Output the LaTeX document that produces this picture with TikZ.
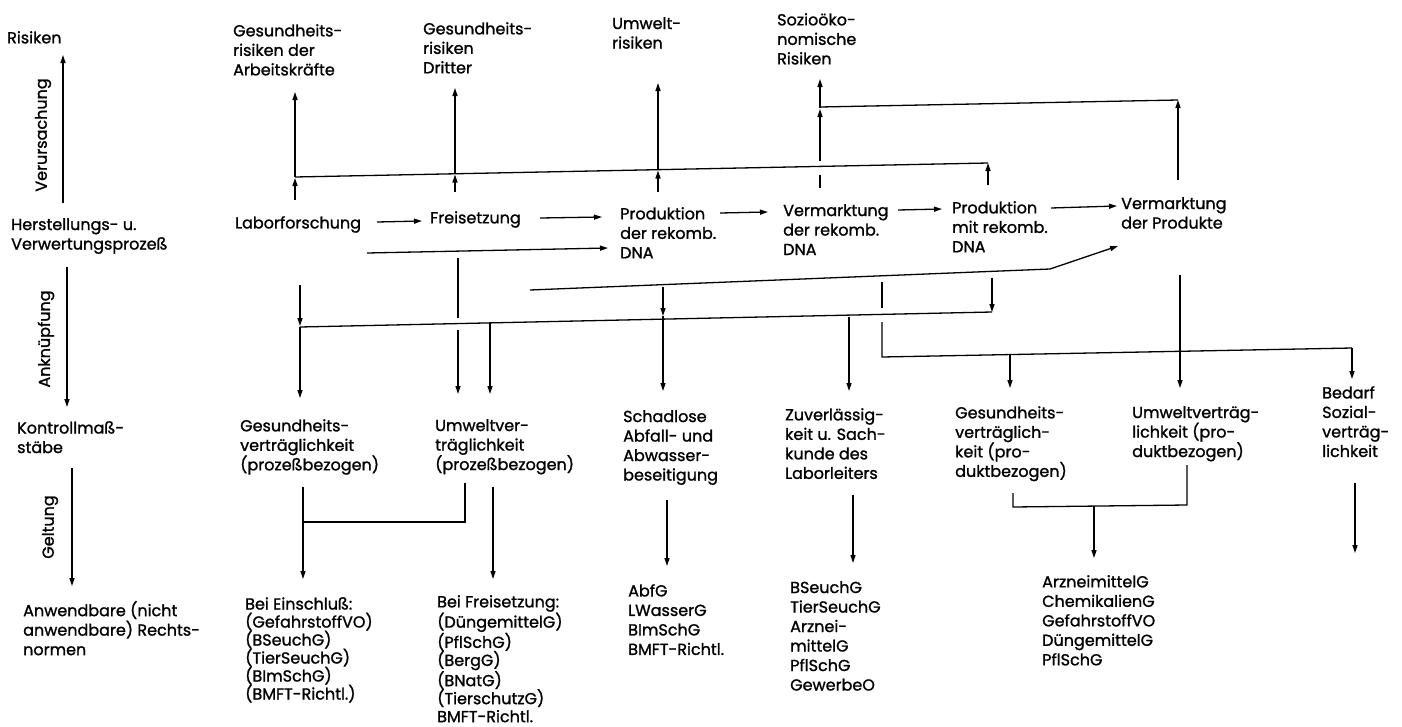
\documentclass[tikz,border=0pt]{standalone}
\usepackage{fontspec}
\setmainfont{Poppins}[UprightFeatures={FakeBold=1.2}]
\usetikzlibrary{arrows.meta}
\begin{document}
\begin{tikzpicture}[x=1pt,y=-1pt,
  txt/.style={anchor=north west,inner sep=0pt,align=left,font=\fontsize{16}{19.5}\selectfont},
  law/.style={anchor=north west,inner sep=0pt,align=left,font=\fontsize{16}{18}\selectfont},
  rot/.style={rotate=90,inner sep=0pt,font=\fontsize{16}{19.5}\selectfont},
  ln/.style={line width=1.3pt},
  arr/.style={line width=1.3pt,-{Triangle[length=8pt,width=5pt]}}]
\useasboundingbox (0,0) rectangle (1402,726);
% left axis
\node[txt] (risk) at (7,31) {Risiken};
\node[txt] (herst) at (11,218) {Herstellungs- u.\\Verwertungsprozeß};
\node[txt] (kontr) at (17,421) {Kontrollmaß-\\stäbe};
\node[txt] (anw) at (23,601) {Anwendbare (nicht\\anwendbare) Rechts-\\normen};
\node[rot] (verurs) at (43,135) {Verursachung};
\node[rot] (ankn) at (46,339) {Anknüpfung};
\node[rot] (gelt) at (50,527) {Geltung};
\coordinate (ax1) at (63,203); \coordinate (ax1e) at (63,55);
\coordinate (ax2) at (67,267); \coordinate (ax2e) at (67,407);
\coordinate (ax3) at (72,468); \coordinate (ax3e) at (72,586);
\draw[arr] (ax1) -- (ax1e);
\draw[arr] (ax2) -- (ax2e);
\draw[arr] (ax3) -- (ax3e);
% risks
\node[txt] (r1) at (233,24) {Gesundheits-\\risiken der\\Arbeitskräfte};
\node[txt] (r2) at (423,22) {Gesundheits-\\risiken\\Dritter};
\node[txt] (r3) at (612,17) {Umwelt-\\risiken};
\node[txt] (r4) at (777,13) {Sozioöko-\\nomische\\Risiken};
% processes
\node[txt] (p1) at (235,216) {Laborforschung};
\node[txt] (p2) at (430,211) {Freisetzung};
\node[txt] (p3) at (620,207) {Produktion\\der rekomb.\\DNA};
\node[txt] (p4) at (783,204) {Vermarktung\\der rekomb.\\DNA};
\node[txt] (p5) at (952,201) {Produktion\\mit rekomb.\\DNA};
\node[txt] (p6) at (1121,197) {Vermarktung\\der Produkte};
% control criteria
\node[txt] (c1) at (240,419) {Gesundheits-\\verträglichkeit\\(prozeßbezogen)};
\node[txt] (c2) at (435,419) {Umweltver-\\träglichkeit\\(prozeßbezogen)};
\node[txt] (c3) at (623,410) {Schadlose\\Abfall- und\\Abwasser-\\beseitigung};
\node[txt] (c4) at (785,408) {Zuverlässig-\\keit u. Sach-\\kunde des\\Laborleiters};
\node[txt] (c5) at (955,406) {Gesundheits-\\verträglich-\\keit (pro-\\duktbezogen)};
\node[txt] (c6) at (1132,406) {Umweltverträg-\\lichkeit (pro-\\duktbezogen)};
\node[txt] (c7) at (1322,386) {Bedarf\\Sozial-\\verträg-\\lichkeit};
% laws
\node[law] (l1) at (245,597) {Bei Einschluß:\\(GefahrstoffVO)\\(BSeuchG)\\(TierSeuchG)\\(BImSchG)\\(BMFT-Richtl.)};
\node[law] (l2) at (437,595) {Bei Freisetzung:\\(DüngemittelG)\\(PflSchG)\\(BergG)\\(BNatG)\\(TierschutzG)\\BMFT-Richtl.};
\node[txt] (l3) at (628,584) {AbfG\\LWasserG\\BImSchG\\BMFT-Richtl.};
\node[txt] (l4) at (790,581) {BSeuchG\\TierSeuchG\\Arznei-\\mittelG\\PflSchG\\GewerbeO};
\node[txt] (l5) at (1042,575) {ArzneimittelG\\ChemikalienG\\GefahrstoffVO\\DüngemittelG\\PflSchG};
% upper bus (causation)
\coordinate (ba1) at (295,177); \coordinate (ba2) at (988,163);
\draw[ln] (ba1) -- (ba2);
\draw[arr] (295,200) -- (295,178);
\draw[arr] (295,177) -- (295,92);
\draw[arr] (455,192) -- (455,174.5);
\draw[arr] (455,174) -- (455,88);
\draw[arr] (658,192) -- (658,170.5);
\draw[arr] (658,170) -- (658,83);
\draw[ln] (820,188) -- (820,175);
\draw[arr] (820,161) -- (820,109);
\draw[arr] (820,108) -- (820,79);
\draw[arr] (1178,180) -- (1178,100);
\draw[ln] (1178,100) -- (820,107);
\draw[arr] (988,185) -- (988,163);
% process arrows
\draw[arr] (377,222) -- (422,221);
\draw[arr] (540,218) -- (602,217);
\draw[arr] (720,213) -- (768,212);
\draw[arr] (898,210) -- (942,209);
\draw[arr] (1051,208) -- (1117,206);
\draw[arr] (367,253) -- (608,248);
\draw[arr] (530,290) -- (1050,269) -- (1118,246);
% lower bus (linkage)
\coordinate (bb1) at (300,327); \coordinate (bb2) at (992,312);
\draw[ln] (bb1) -- (bb2);
\draw[arr] (300,285) -- (300,326);
\draw[arr] (300,327) -- (300,398);
\draw[ln] (458,258) -- (458,318);
\draw[arr] (458,330) -- (458,394);
\draw[arr] (490,323) -- (490,394);
\draw[arr] (663,287) -- (663,316);
\draw[arr] (663,316) -- (663,391);
\draw[arr] (849,317) -- (849,391);
\draw[arr] (992,278) -- (992,312);
\draw[ln] (882,282) -- (882,308);
\draw[ln] (882,322) -- (882,357) -- (1352,348);
\draw[arr] (1010,354) -- (1010,388);
\draw[arr] (1352,348) -- (1352,379);
\draw[arr] (1180,275) -- (1180,388);
% bottom (validity)
\draw[arr] (303,487) -- (303,579);
\draw[ln] (465,483) -- (465,522) -- (303,522);
\draw[arr] (493,487) -- (493,579);
\draw[arr] (667,500) -- (667,566);
\draw[arr] (853,495) -- (853,563);
\draw[ln] (1013,493) -- (1013,507) -- (1187,505) -- (1187,465);
\draw[arr] (1094,506) -- (1094,558);
\draw[arr] (1355,483) -- (1355,553);
\end{tikzpicture}
\end{document}
